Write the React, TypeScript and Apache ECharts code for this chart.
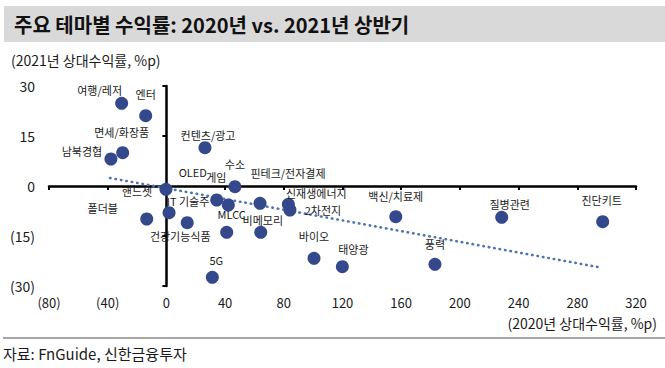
import React, { useEffect, useRef } from "react";
import * as echarts from "echarts";

const themeNames = [
  "여행/레저", "엔터", "면세/화장품", "남북경협", "컨텐츠/광고", "수소", "핸드셋", "OLED",
  "게임", "핀테크/전자결제", "신재생에너지", "2차전지", "IT 기술주", "폴더블", "건강기능식품", "MLCC",
  "비메모리", "5G", "바이오", "태양광", "백신/치료제", "풍력", "질병관련", "진단키트",
];
const return2020 = [
  -30.5, -14.1, -29.8, -37.8, 26.3, 46.7, -0.3, 34.3,
  42.2, 63.8, 83.1, 84.2, 1.8, -13.4, 14.2, 41.1,
  64.3, 31.3, 100.6, 119.9, 156.3, 183.0, 228.5, 297.3,
];
const return2021 = [
  24.8, 21.1, 10.0, 8.1, 11.5, -0.2, -1.0, -4.2,
  -5.7, -5.2, -5.5, -7.2, -8.0, -9.9, -11.0, -13.9,
  -13.9, -27.4, -21.7, -24.2, -9.2, -23.5, -9.4, -10.7,
];
// trend line end points
const trendX = [-38.4, 294.0];
const trendY = [2.4, -24.3];

const xTicks = { min: -80, max: 320, interval: 40 };
const yTicks = { min: -30, max: 30, interval: 15 };

// label placement (pixels, relative to the marker centre)
const labelOffsets: number[][] = [
  [-22, -13], [0, -22], [-1, -21], [-29, -8], [3, -13], [0, -23], [-29, 2], [-24, -28],
  [-12, -28], [28, -30], [28, -11], [33, 0], [19, -12], [-44, -11], [-7, 13], [5, -18],
  [2, -12], [4, -17], [0, -22], [11, -18], [0, -21], [0, -20], [8, -13], [-1, -22],
];

const FONT = "'Noto Sans CJK KR', 'Noto Sans', sans-serif";
const fmt = (v: number) => (v < 0 ? `(${-v})` : `${v}`);

export default function App() {
  const ref = useRef<HTMLDivElement>(null);
  useEffect(() => {
    if (!ref.current) return;
    const chart = echarts.init(ref.current, undefined, { renderer: "svg" });
    const scatterData = themeNames.map((n, i) => ({
      name: n,
      value: [return2020[i], return2021[i]],
      label: { offset: labelOffsets[i] },
    }));
    chart.setOption({
      animation: false,
      grid: { left: 49, right: 29, top: 86, bottom: 82, containLabel: false },
      xAxis: [
        {
          type: "value", ...xTicks,
          axisLine: { show: true, onZero: true, lineStyle: { color: "#000", width: 2.5 } },
          axisTick: { show: true, length: 4, lineStyle: { color: "#000", width: 2 } },
          axisLabel: { show: false },
          splitLine: { show: false },
        },
        {
          type: "value", ...xTicks, position: "bottom",
          axisLine: { show: false, onZero: false },
          axisTick: { show: false },
          axisLabel: { show: true, formatter: fmt, margin: 9, fontSize: 13, lineHeight: 14, color: "#1a1a1a", fontFamily: FONT },
          splitLine: { show: false },
        },
      ],
      yAxis: [
        {
          type: "value", ...yTicks,
          axisLine: { show: true, onZero: true, lineStyle: { color: "#000", width: 2.5 } },
          axisTick: { show: true, length: 4, lineStyle: { color: "#000", width: 2 } },
          axisLabel: { show: false },
          splitLine: { show: false },
        },
        {
          type: "value", ...yTicks, position: "left",
          axisLine: { show: false, onZero: false },
          axisTick: { show: false },
          axisLabel: { show: true, formatter: fmt, margin: 14, fontSize: 14, color: "#1a1a1a", fontFamily: FONT },
          splitLine: { show: false },
        },
      ],
      series: [
        {
          type: "line",
          xAxisIndex: 0, yAxisIndex: 0,
          data: trendX.map((x, i) => [x, trendY[i]]),
          symbol: "none",
          z: 1,
          lineStyle: { color: "#4f74b3", width: 2.6, type: [0.5, 5], cap: "round" },
          silent: true,
        },
        {
          type: "scatter",
          xAxisIndex: 0, yAxisIndex: 0,
          data: scatterData,
          symbolSize: 13,
          z: 3,
          itemStyle: { color: "#33498c", opacity: 1 },
          label: {
            show: true,
            position: "inside",
            formatter: "{b}",
            color: "#1a1a1a",
            fontSize: 11,
            fontFamily: FONT,
          },
        },
      ],
      graphic: [
        { type: "rect", shape: { x: 4, y: 6, width: 661, height: 36 }, style: { fill: "#d9d9d9" }, z: 0 },
        {
          type: "text", x: 14, y: 24,
          style: { text: "주요 테마별 수익률: 2020년 vs. 2021년 상반기", fill: "#111", font: `bold 20px ${FONT}`, verticalAlign: "middle" },
        },
        {
          type: "text", x: 11, y: 60,
          style: { text: "(2021년 상대수익률, %p)", fill: "#1a1a1a", font: `14px ${FONT}`, verticalAlign: "middle" },
        },
        {
          type: "text", x: 657, y: 323,
          style: { text: "(2020년 상대수익률, %p)", fill: "#1a1a1a", font: `14px ${FONT}`, lineHeight: 15, verticalAlign: "middle", align: "right" },
        },
        { type: "line", shape: { x1: 3, y1: 338, x2: 665, y2: 338 }, style: { stroke: "#a6a6a6", lineWidth: 2 } },
        {
          type: "text", x: 3, y: 353,
          style: { text: "자료: FnGuide, 신한금융투자", fill: "#1a1a1a", font: `15px ${FONT}`, verticalAlign: "middle" },
        },
      ],
    });
    return () => chart.dispose();
  }, []);
  return (
    <div
      ref={ref}
      style={{ position: "fixed", left: 0, top: 0, width: 665, height: 368, background: "#fff" }}
    />
  );
}
